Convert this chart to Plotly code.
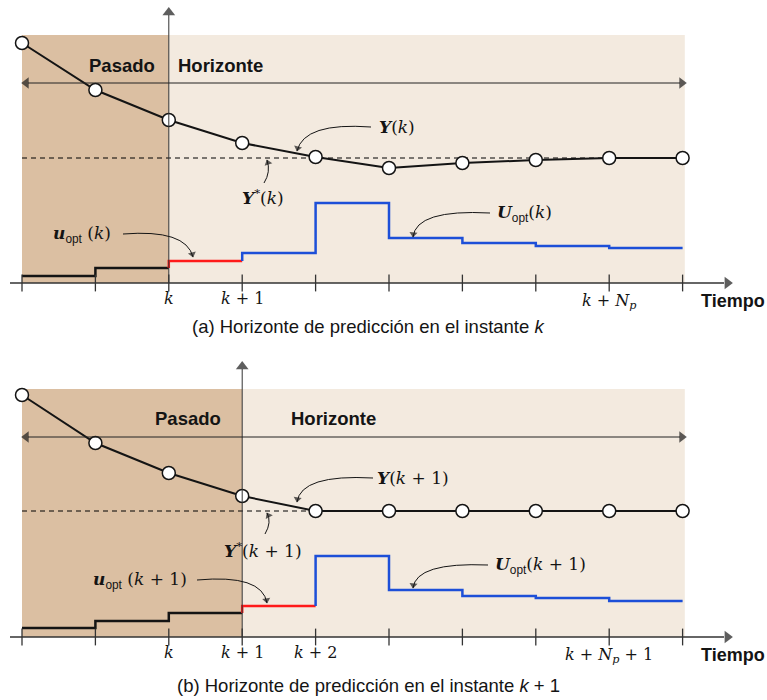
import math
import plotly.graph_objects as go

# ---------------- data (in px-height units) ----------------
steps = list(range(10))                      # sample instants (tick positions)
# panel (a): instant k
Y_a = [240, 193, 163, 140, 126, 115, 120, 123, 125, 125]
Yref_a = 125
u_past_a = [7, 15]                           # applied inputs before k
u_opt_a = 22                                 # first optimal move at k
U_rest_a = [30, 80, 45, 40, 37, 35]          # rest of optimal sequence
# panel (b): instant k+1
Y_b = [242, 194, 164, 141, 126, 126, 126, 126, 126, 126]
Yref_b = 126
u_past_b = [9, 16, 24]
u_opt_b = 31
U_rest_b = [81, 47, 41, 39, 36]

ticklabels_a = {2: "<i>k</i>", 3: "<i>k</i> + 1", 8: "<i>k</i> + <i>N</i><sub><i>p</i></sub>"}
ticklabels_b = {2: "<i>k</i>", 3: "<i>k</i> + 1", 4: "<i>k</i> + 2",
                8: "<i>k</i> + <i>N</i><sub><i>p</i></sub> + 1"}

# ---------------- layout helpers ----------------
W, H = 767, 700
S, X0 = 73.4, 22.0
XA = -X0 / S
XB = XA + W / S
TOP_AX, BOT_AX = 283, 637
SPLIT = 340

def gx(px):
    return (px - X0) / S

def px_paper(px, py):
    return px / W, 1 - py / H

BLACK = "#141414"
AXC = "#333333"
RED = "#ff1a1a"
BLUE = "#1c4fd8"
DARK = "#dbbfa2"
LIGHT = "#f3eadf"
SERIF = "DejaVu Serif"
SANS = "Liberation Sans"

fig = go.Figure()
shapes = []
annots = []


def panel(xr, yax, Y, Yref, u_past, u_opt, U_rest, now_idx, ticklabels,
          texts, curves, caption, cap_y):
    AX = TOP_AX if yax == "y" else BOT_AX

    def gy(py):
        return AX - py

    def line(p0, p1, color, width):
        shapes.append(dict(type="line", xref=xr, yref=yax, x0=gx(p0[0]), y0=gy(p0[1]),
                           x1=gx(p1[0]), y1=gy(p1[1]), line=dict(color=color, width=width),
                           layer="above"))

    heads_x, heads_y, heads_ang, heads_sz = [], [], [], []

    def head(tip, d, size):
        n = math.hypot(*d)
        dx, dy = d[0] / n, d[1] / n
        cxp = tip[0] - dx * size * 0.42
        cyp = tip[1] - dy * size * 0.42
        heads_x.append(gx(cxp))
        heads_y.append(gy(cyp))
        heads_ang.append(math.degrees(math.atan2(dx, -dy)))
        heads_sz.append(size)

    # background
    shapes.append(dict(type="rect", xref=xr, yref=yax, x0=0, x1=now_idx, y0=0, y1=248,
                       fillcolor=DARK, line_width=0, layer="below"))
    shapes.append(dict(type="rect", xref=xr, yref=yax, x0=now_idx, x1=9.03, y0=0, y1=248,
                       fillcolor=LIGHT, line_width=0, layer="below"))
    # reference (dashed)
    fig.add_trace(go.Scatter(x=[0, 9], y=[Yref, Yref], mode="lines", xaxis=xr, yaxis=yax,
                             line=dict(color="#000000", width=1, dash="5px,4px"),
                             hoverinfo="skip"))
    # output
    fig.add_trace(go.Scatter(x=steps, y=Y, mode="lines+markers", xaxis=xr, yaxis=yax,
                             line=dict(color=BLACK, width=2),
                             marker=dict(size=13, color="white", line=dict(color=BLACK, width=1.5)),
                             hoverinfo="skip", cliponaxis=False))
    # past inputs
    n = len(u_past)
    fig.add_trace(go.Scatter(x=list(range(n)) + [n], y=u_past + [u_past[-1]], mode="lines",
                             xaxis=xr, yaxis=yax, line=dict(color=BLACK, width=2.5, shape="hv"),
                             hoverinfo="skip"))
    # first optimal move
    fig.add_trace(go.Scatter(x=[n, n, n + 1], y=[u_past[-1], u_opt, u_opt], mode="lines",
                             xaxis=xr, yaxis=yax, line=dict(color=RED, width=2.5, shape="hv"),
                             hoverinfo="skip"))
    # remaining optimal sequence
    xs = [n + 1] + [n + 1 + i for i in range(len(U_rest))] + [n + 1 + len(U_rest)]
    ys = [u_opt] + U_rest + [U_rest[-1]]
    fig.add_trace(go.Scatter(x=xs, y=ys, mode="lines", xaxis=xr, yaxis=yax,
                             line=dict(color=BLUE, width=2.5, shape="hv"), hoverinfo="skip"))
    # ticks
    fig.add_trace(go.Scatter(x=steps, y=[0] * len(steps), mode="markers", xaxis=xr, yaxis=yax,
                             marker=dict(symbol="line-ns", size=12,
                                         line=dict(color=AXC, width=1.3)),
                             hoverinfo="skip"))
    # time axis
    line((10, AX), (724, AX), AXC, 1.3)
    head((732, AX), (1, 0), 11)
    # vertical axis at current instant
    vx = X0 + S * now_idx
    line((vx, AX), (vx, AX - 268), AXC, 1)
    head((vx, AX - 275), (0, -1), 11)
    # horizon double arrow
    hy = AX - 200
    line((28, hy), (680, hy), "#222", 1)
    head((22, hy), (-1, 0), 10)
    head((686, hy), (1, 0), 10)
    # tick labels
    for i, t in ticklabels.items():
        annots.append(dict(xref=xr, yref=yax, x=i, y=-15 if "N" not in t else -18, text=t,
                           showarrow=False, xanchor="center", yanchor="middle",
                           font=dict(family=SERIF, size=16, color=BLACK)))
    annots.append(dict(xref=xr, yref=yax, x=gx(733), y=-18, text="<b>Tiempo</b>", showarrow=False,
                       xanchor="center", yanchor="middle",
                       font=dict(family=SANS, size=18, color=BLACK)))
    # texts
    for (px, py, t, fam, sz) in texts:
        xx, yy = px_paper(px, py)
        annots.append(dict(xref="paper", yref="paper", x=xx, y=yy, text=t, showarrow=False,
                           xanchor="center", yanchor="middle",
                           font=dict(family=fam, size=sz, color=BLACK)))
    # curved pointer arrows (quadratic bezier + arrow head)
    for (p0, pc, p1) in curves:
        shapes.append(dict(type="path", xref=xr, yref=yax, layer="above",
                           path=(f"M {gx(p0[0])},{gy(p0[1])} Q {gx(pc[0])},{gy(pc[1])} "
                                 f"{gx(p1[0])},{gy(p1[1])}"),
                           line=dict(color=BLACK, width=1)))
        head(p1, (p1[0] - pc[0], p1[1] - pc[1]), 7)
    fig.add_trace(go.Scatter(x=heads_x, y=heads_y, mode="markers", xaxis=xr, yaxis=yax,
                             marker=dict(symbol="triangle-up", size=heads_sz, angle=heads_ang,
                                         color="#1a1a1a", line=dict(width=0)),
                             hoverinfo="skip", cliponaxis=False))
    cx, cy = px_paper(368, cap_y)
    annots.append(dict(xref="paper", yref="paper", x=cx, y=cy, text=caption, showarrow=False,
                       xanchor="center", yanchor="middle",
                       font=dict(family=SANS, size=18.5, color=BLACK)))


MATH = 17
SUB = "<sub><span style='font-family:Liberation Sans'>opt</span></sub>"
panel("x", "y", Y_a, Yref_a, u_past_a, u_opt_a, U_rest_a, 2, ticklabels_a,
      texts=[(122, 65, "<b>Pasado</b>", SANS, 18.5),
             (220, 65, "<b>Horizonte</b>", SANS, 18.5),
             (397, 127, "<b><i>Y</i></b>(<i>k</i>)", SERIF, MATH),
             (263, 197, "<b><i>Y</i></b><sup>*</sup>(<i>k</i>)", SERIF, MATH),
             (82, 234, "<b><i>u</i></b>" + SUB + " (<i>k</i>)", SERIF, MATH),
             (524, 213, "<b><i>U</i></b>" + SUB + "(<i>k</i>)", SERIF, MATH)],
      curves=[((371, 127), (304, 122), (297, 151)),
              ((264, 183), (271, 172), (267, 160)),
              ((123, 234), (186, 229), (193, 257)),
              ((490, 213), (416, 209), (413, 237))],
      caption="(a) Horizonte de predicción en el instante <i>k</i>", cap_y=327)

panel("x2", "y2", Y_b, Yref_b, u_past_b, u_opt_b, U_rest_b, 3, ticklabels_b,
      texts=[(188, 418, "<b>Pasado</b>", SANS, 18.5),
             (333, 418, "<b>Horizonte</b>", SANS, 18.5),
             (413, 478, "<b><i>Y</i></b>(<i>k</i> + 1)", SERIF, MATH),
             (263, 550, "<b><i>Y</i></b><sup>*</sup>(<i>k</i> + 1)", SERIF, MATH),
             (140, 580, "<b><i>u</i></b>" + SUB + " (<i>k</i> + 1)", SERIF, MATH),
             (540, 565, "<b><i>U</i></b>" + SUB + "(<i>k</i> + 1)", SERIF, MATH)],
      curves=[((373, 478), (301, 474), (297, 502)),
              ((265, 534), (272, 522), (267, 513)),
              ((197, 580), (262, 574), (267, 603)),
              ((488, 565), (416, 562), (413, 588))],
      caption="(b) Horizonte de predicción en el instante <i>k</i> + 1", cap_y=685)

fig.update_layout(
    width=W, height=H, margin=dict(l=0, r=0, t=0, b=0),
    paper_bgcolor="white", plot_bgcolor="rgba(0,0,0,0)", showlegend=False,
    xaxis=dict(domain=[0, 1], range=[XA, XB], visible=False, anchor="y", fixedrange=True),
    yaxis=dict(domain=[1 - SPLIT / H, 1], range=[TOP_AX - SPLIT, TOP_AX], visible=False,
               anchor="x", fixedrange=True),
    xaxis2=dict(domain=[0, 1], range=[XA, XB], visible=False, anchor="y2", fixedrange=True),
    yaxis2=dict(domain=[0, 1 - SPLIT / H], range=[BOT_AX - H, BOT_AX - SPLIT], visible=False,
                anchor="x2", fixedrange=True),
    shapes=shapes, annotations=annots,
)

fig.write_html("out.html", config={"displayModeBar": False},
               post_script="document.body.style.margin='0';document.body.style.overflow='hidden';")
